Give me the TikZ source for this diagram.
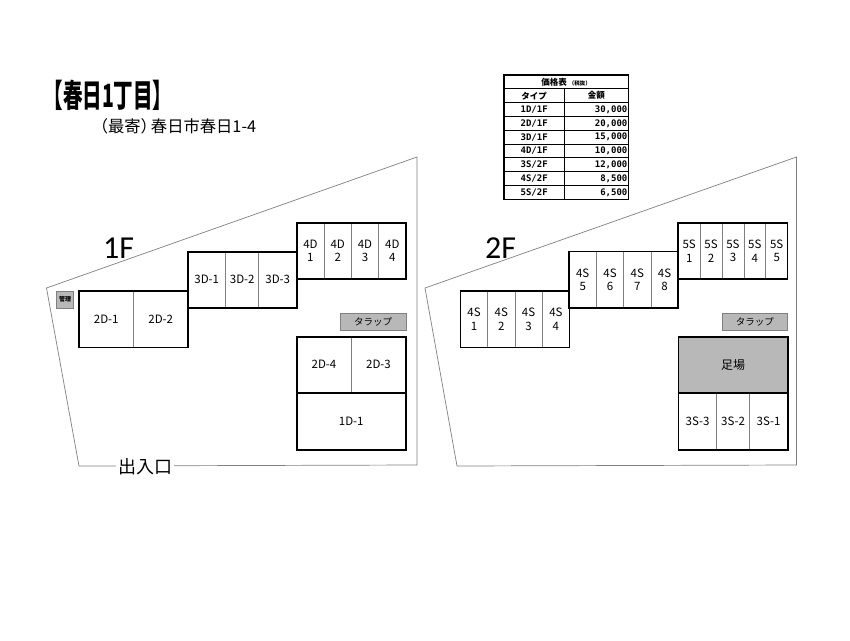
\documentclass[tikz,border=0pt]{standalone}
\usepackage{fontspec}
\setmainfont{Noto Sans CJK JP}
\newfontfamily\labelfont{Carlito}
\newfontfamily\pricefont{DejaVu Sans Mono}
\tikzstyle{lot} = [draw=black!50, line width=0.7pt]
\tikzstyle{wall} = [draw=black, line width=1.6pt]
\tikzstyle{cell} = [rectangle, draw=black!50, line width=0.8pt, inner sep=0pt, outer sep=0pt, align=center, font=\fontsize{11.5}{13.5}\selectfont]
\tikzstyle{wide} = [cell, minimum width=54.5pt, minimum height=56.5pt]
\tikzstyle{four} = [cell, minimum width=27.3pt, minimum height=56.5pt]
\tikzstyle{five} = [cell, minimum width=21.88pt, minimum height=56.5pt]
\tikzstyle{tarp} = [rectangle, draw=black!50, fill=black!28, line width=0.7pt, inner sep=0pt, outer sep=0pt, minimum width=65.5pt, minimum height=17.4pt, font=\fontsize{9.5}{11}\selectfont]
\tikzstyle{floor} = [inner sep=2pt, font=\labelfont\fontsize{32}{36}\selectfont]
\tikzstyle{pricecell} = [rectangle, draw=black, line width=0.8pt, inner sep=1pt, outer sep=0pt, minimum height=13.8pt, font=\pricefont\bfseries\fontsize{9}{10}\selectfont]
\tikzstyle{pricename} = [pricecell, minimum width=60.3pt, align=center]
\tikzstyle{priceval} = [pricecell, text width=62pt, minimum width=64pt, align=right]
\begin{document}
\begin{tikzpicture}[x=1pt, y=-1pt]
    \useasboundingbox [fill=white] (0,0) rectangle (850,640);

    \node (title) [inner sep=0pt, xscale=0.61, font=\fontsize{32}{32}\selectfont\bfseries] at (108,95) {【春日1丁目】};
    \node (place) [inner sep=0pt, font=\fontsize{16.3}{18}\selectfont] at (174,126) {（最寄）\kern-6pt 春日市春日1-4};

    \coordinate (lotA) at (46.5,288);
    \coordinate (lotB) at (417,157);
    \coordinate (lotC) at (417,465);
    \coordinate (lotD) at (79,466);
    \draw [lot] (lotA) -- (lotB) -- (lotC) -- (lotD) -- cycle;
    \node (gate) [fill=white, inner sep=1pt, minimum width=58pt, font=\fontsize{18}{20}\selectfont] at (145,467) {出入口};
    \node (floorA) [floor] at (118.5,248.5) {1F};
    \node (office) [rectangle, draw=black!50, fill=black!28, line width=0.8pt, inner sep=0pt, minimum width=17pt, minimum height=17pt, font=\fontsize{6}{7}\selectfont\bfseries] at (65.2,299.5) {管理};

    \node (dOneA) [wide] at (106.2,319.2) {2D-1};
    \node (dOneB) [wide, right of=dOneA, node distance=54.5pt] {2D-2};
    \draw [wall] (dOneA.north west) rectangle (dOneB.south east);

    \node (dTwoA) [cell, minimum width=38pt, minimum height=56pt] at (206.7,279.7) {3D-1};
    \node (dTwoB) [cell, minimum width=33pt, minimum height=56pt, right of=dTwoA, node distance=35.5pt] {3D-2};
    \node (dTwoC) [cell, minimum width=38pt, minimum height=56pt, right of=dTwoB, node distance=35.5pt] {3D-3};
    \draw [wall] (dTwoA.north west) rectangle (dTwoC.south east);

    \node (dThreeA) [four] at (310.4,251) {4D\\1};
    \node (dThreeB) [four, right of=dThreeA, node distance=27.3pt] {4D\\2};
    \node (dThreeC) [four, right of=dThreeB, node distance=27.3pt] {4D\\3};
    \node (dThreeD) [four, right of=dThreeC, node distance=27.3pt] {4D\\4};
    \draw [wall] (dThreeA.north west) rectangle (dThreeD.south east);

    \node (tarpA) [tarp] at (373.2,322) {タラップ};

    \node (dFourA) [wide, minimum height=56pt] at (324,364.7) {2D-4};
    \node (dFourB) [wide, minimum height=56pt, right of=dFourA, node distance=54.5pt] {2D-3};
    \node (dFive) [cell, minimum width=109pt, minimum height=57.3pt, below of=dFourA, xshift=27.25pt, node distance=56.65pt] {1D-1};
    \draw [wall] (dFourA.north west) rectangle (dFive.south east);
    \draw [wall] (dFive.north west) -- (dFive.north east);

    \coordinate (lotE) at (425,288);
    \coordinate (lotF) at (796.5,157);
    \coordinate (lotG) at (796.5,465);
    \coordinate (lotH) at (457,466);
    \draw [lot] (lotE) -- (lotF) -- (lotG) -- (lotH) -- cycle;
    \node (floorB) [floor] at (500.5,248.5) {2F};

    \node (sOneA) [four] at (474,319.2) {4S\\1};
    \node (sOneB) [four, right of=sOneA, node distance=27.3pt] {4S\\2};
    \node (sOneC) [four, right of=sOneB, node distance=27.3pt] {4S\\3};
    \node (sOneD) [four, right of=sOneC, node distance=27.3pt] {4S\\4};
    \draw [wall] (sOneA.north west) rectangle (sOneD.south east);

    \node (sTwoA) [four] at (582.7,279.7) {4S\\5};
    \node (sTwoB) [four, right of=sTwoA, node distance=27.3pt] {4S\\6};
    \node (sTwoC) [four, right of=sTwoB, node distance=27.3pt] {4S\\7};
    \node (sTwoD) [four, right of=sTwoC, node distance=27.3pt] {4S\\8};
    \draw [wall] (sTwoA.north west) rectangle (sTwoD.south east);

    \node (sThreeA) [five] at (689.2,251) {5S\\1};
    \node (sThreeB) [five, right of=sThreeA, node distance=21.88pt] {5S\\2};
    \node (sThreeC) [five, right of=sThreeB, node distance=21.88pt] {5S\\3};
    \node (sThreeD) [five, right of=sThreeC, node distance=21.88pt] {5S\\4};
    \node (sThreeE) [five, right of=sThreeD, node distance=21.88pt] {5S\\5};
    \draw [wall] (sThreeA.north west) rectangle (sThreeE.south east);

    \node (tarpB) [tarp] at (754.9,322) {タラップ};

    \node (scaffold) [cell, fill=black!28, minimum width=109.4pt, minimum height=56pt, font=\fontsize{12}{14}\selectfont] at (733,364.7) {足場};
    \node (sFourA) [cell, minimum width=38.4pt, minimum height=57.3pt] at (697.5,421.3) {3S-3};
    \node (sFourB) [cell, minimum width=32.6pt, minimum height=57.3pt, right of=sFourA, node distance=35.5pt] {3S-2};
    \node (sFourC) [cell, minimum width=38.4pt, minimum height=57.3pt, right of=sFourB, node distance=35.5pt] {3S-1};
    \draw [wall] (scaffold.north west) rectangle (sFourC.south east);
    \draw [wall] (scaffold.south west) -- (scaffold.south east);

    \node (priceTitle) [pricecell, minimum width=124.3pt, font=\fontsize{8.5}{10}\selectfont\bfseries] at (566.2,81.9) {価格表 \fontsize{5.5}{6}\selectfont（税抜）};
    \node (typeHead) [pricename, font=\fontsize{8.5}{10}\selectfont\bfseries] at (534.2,95.7) {タイプ};
    \node (costHead) [priceval, align=center, font=\fontsize{8.5}{10}\selectfont\bfseries, right of=typeHead, node distance=62.15pt] {金額};
    \node (typeA) [pricename, below of=typeHead, node distance=13.8pt] {1D/1F};
    \node (costA) [priceval, below of=costHead, node distance=13.8pt] {30,000};
    \node (typeB) [pricename, below of=typeA, node distance=13.8pt] {2D/1F};
    \node (costB) [priceval, below of=costA, node distance=13.8pt] {20,000};
    \node (typeC) [pricename, below of=typeB, node distance=13.8pt] {3D/1F};
    \node (costC) [priceval, below of=costB, node distance=13.8pt] {15,000};
    \node (typeD) [pricename, below of=typeC, node distance=13.8pt] {4D/1F};
    \node (costD) [priceval, below of=costC, node distance=13.8pt] {10,000};
    \node (typeE) [pricename, below of=typeD, node distance=13.8pt] {3S/2F};
    \node (costE) [priceval, below of=costD, node distance=13.8pt] {12,000};
    \node (typeF) [pricename, below of=typeE, node distance=13.8pt] {4S/2F};
    \node (costF) [priceval, below of=costE, node distance=13.8pt] {8,500};
    \node (typeG) [pricename, below of=typeF, node distance=13.8pt] {5S/2F};
    \node (costG) [priceval, below of=costF, node distance=13.8pt] {6,500};
    \draw [draw=black, line width=1.3pt] (priceTitle.north west) rectangle (costG.south east);
\end{tikzpicture}
\end{document}
